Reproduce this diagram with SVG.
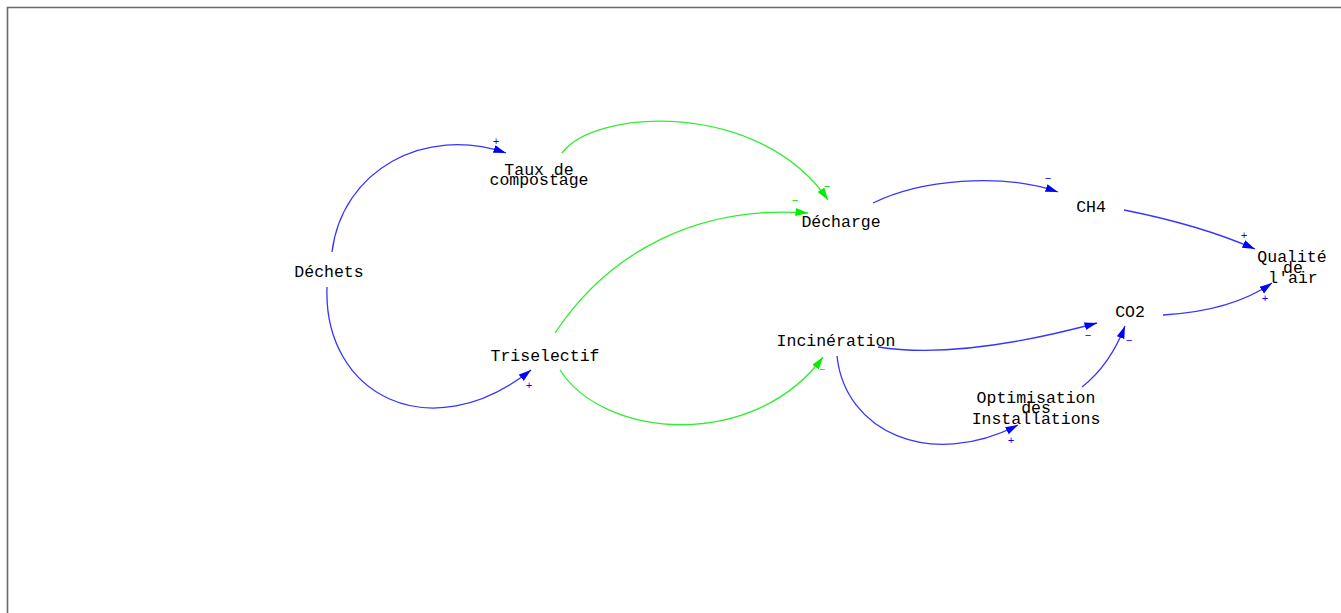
<svg xmlns="http://www.w3.org/2000/svg" width="1341" height="613" viewBox="0 0 1341 613">
  <style>
    .lbl { font-family: "Liberation Mono", "DejaVu Sans Mono", monospace; font-size: 16.5px; fill: #000; text-anchor: middle; }
    .sgn { font-family: "Liberation Mono", "DejaVu Sans Mono", monospace; font-size: 11px; text-anchor: middle; }
    .pos { fill: #0000ff; }
    .neg-b { fill: #0000ff; }
    .neg-g { fill: #00e000; }
    .blue { fill: none; stroke: #3535ff; stroke-width: 1.3; marker-end: url(#headBlue); }
    .green { fill: none; stroke: #2fee2f; stroke-width: 1.3; marker-end: url(#headGreen); }
  </style>
  <defs>
    <marker id="headBlue" markerUnits="userSpaceOnUse" markerWidth="14" markerHeight="9" refX="12.5" refY="4" orient="auto">
      <path d="M0,0 L12.5,4 L0,8 z" fill="#0000ff"/>
    </marker>
    <marker id="headGreen" markerUnits="userSpaceOnUse" markerWidth="14" markerHeight="9" refX="12.5" refY="4" orient="auto">
      <path d="M0,0 L12.5,4 L0,8 z" fill="#00ee00"/>
    </marker>
  </defs>

  <rect width="1341" height="613" fill="#fff"/>
  <!-- frame -->
  <path d="M7.5,613 V7.5 H1341" fill="none" stroke="#6a6a6a" stroke-width="1.6"/>

  <!-- connectors -->
  <g id="connectors">
    <path class="blue" d="M332,252 C342,170 425,125 506,153"/>
    <path class="blue" d="M327,287 C323,395 430,450 531,370"/>
    <path class="green" d="M562,153 C595,108 760,100 828,200"/>
    <path class="green" d="M555,333 C610,250 700,205 808,213"/>
    <path class="green" d="M560,370 C605,440 755,450 823,357"/>
    <path class="blue" d="M873,203 C920,180 1000,172 1058,192"/>
    <path class="blue" d="M1124,210 Q1200,225 1255,249"/>
    <path class="blue" d="M1163,315 Q1232,311 1272,283"/>
    <path class="blue" d="M878,347 Q960,360 1097,323"/>
    <path class="blue" d="M837,356 C845,432 930,470 1018,425"/>
    <path class="blue" d="M1082,387 Q1110,365 1125,326"/>

    <!-- polarity signs -->
    <text class="sgn pos" x="496" y="145">+</text>
    <text class="sgn pos" x="529" y="389">+</text>
    <text class="sgn neg-g" x="827" y="190">−</text>
    <text class="sgn neg-g" x="795" y="204">−</text>
    <text class="sgn neg-g" x="822" y="373">−</text>
    <text class="sgn neg-b" x="1048" y="182">−</text>
    <text class="sgn pos" x="1244" y="239">+</text>
    <text class="sgn pos" x="1265" y="302">+</text>
    <text class="sgn neg-b" x="1088" y="339">−</text>
    <text class="sgn neg-b" x="1129" y="344">−</text>
    <text class="sgn pos" x="1011" y="444">+</text>
  </g>

  <!-- variables -->
  <g id="dechets"><text class="lbl" x="329" y="277">Déchets</text></g>
  <g id="taux-compostage">
    <text class="lbl" x="539" y="175">Taux de</text>
    <text class="lbl" x="539" y="185">compostage</text>
  </g>
  <g id="triselectif"><text class="lbl" x="545" y="361">Triselectif</text></g>
  <g id="decharge"><text class="lbl" x="841" y="227">Décharge</text></g>
  <g id="incineration"><text class="lbl" x="836" y="346">Incinération</text></g>
  <g id="ch4"><text class="lbl" x="1091" y="212">CH4</text></g>
  <g id="co2"><text class="lbl" x="1130" y="317">CO2</text></g>
  <g id="qualite-air">
    <text class="lbl" x="1292" y="262">Qualité</text>
    <text class="lbl" x="1293" y="273">de</text>
    <text class="lbl" x="1293" y="283">l'air</text>
  </g>
  <g id="optimisation">
    <text class="lbl" x="1036" y="403">Optimisation</text>
    <text class="lbl" x="1036" y="413">des</text>
    <text class="lbl" x="1036" y="424">Installations</text>
  </g>
</svg>
